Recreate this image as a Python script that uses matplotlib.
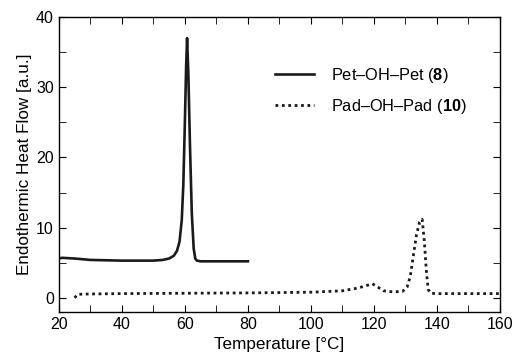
import matplotlib
matplotlib.use("Agg")
import matplotlib.pyplot as plt
from matplotlib.ticker import MultipleLocator

plt.rcParams['font.family'] = ['Liberation Sans', 'DejaVu Sans']
plt.rcParams['mathtext.fontset'] = 'custom'
plt.rcParams['mathtext.rm'] = 'Liberation Sans'
plt.rcParams['mathtext.bf'] = 'Liberation Sans:bold'

# Pet-OH-Pet (8)
temp_8 = [20, 21, 25, 30, 40, 50, 53, 55, 56.5, 57.5, 58.3, 59, 59.5, 60, 60.4,
          60.7, 61.1, 61.6, 62.2, 62.8, 63.3, 63.8, 65, 70, 80]
flow_8 = [5.6, 5.7, 5.6, 5.4, 5.3, 5.3, 5.4, 5.6, 6.0, 6.7, 8.0, 11, 16, 25, 33,
          37, 32, 22, 12, 7.0, 5.6, 5.3, 5.2, 5.2, 5.2]

# Pad-OH-Pad (10)
temp_10 = [25, 26, 30, 40, 60, 80, 100, 110, 115, 118, 119.5, 121, 123, 126,
           129, 130.5, 131.5, 132.5, 133.5, 134.5, 135.3, 136, 136.6, 137.2,
           138, 140, 150, 160]
flow_10 = [0, 0.5, 0.55, 0.6, 0.65, 0.7, 0.8, 1.0, 1.4, 1.8, 2.0, 1.6, 1.0, 0.85,
           0.9, 1.5, 3.0, 6.0, 9.0, 10.8, 11.2, 8.0, 4.0, 1.2, 0.65, 0.6, 0.6, 0.6]

fig = plt.figure(figsize=(5.16, 3.56), dpi=100)
ax = fig.add_axes([0.114, 0.124, 0.855, 0.828])

ax.plot(temp_8, flow_8, color='#1a1a1a', lw=1.9, label=r'Pet–OH–Pet ($\mathbf{8}$)')
ax.plot(temp_10, flow_10, color='#1a1a1a', lw=2.0, linestyle=(0, (1, 1.3)),
        label=r'Pad–OH–Pad ($\mathbf{10}$)')

ax.set_xlim(20, 160)
ax.set_ylim(-2, 40)
ax.xaxis.set_major_locator(MultipleLocator(20))
ax.xaxis.set_minor_locator(MultipleLocator(10))
ax.yaxis.set_major_locator(MultipleLocator(10))
ax.yaxis.set_minor_locator(MultipleLocator(5))
ax.tick_params(which='both', direction='in', top=True, right=True, labelsize=11.5)
ax.tick_params(which='major', length=5)
ax.tick_params(which='minor', length=5)
for s in ax.spines.values():
    s.set_linewidth(1.0)

ax.set_xlabel('Temperature [°C]', fontsize=12.3, labelpad=4)
ax.set_ylabel('Endothermic Heat Flow [a.u.]', fontsize=12.3, labelpad=3)

ax.legend(loc='upper left', bbox_to_anchor=(0.49, 0.835), frameon=False,
          fontsize=11.8, borderpad=0, borderaxespad=0, handlelength=2.4,
          handletextpad=1.0, labelspacing=0.75)

fig.savefig('out.png', dpi=100)
